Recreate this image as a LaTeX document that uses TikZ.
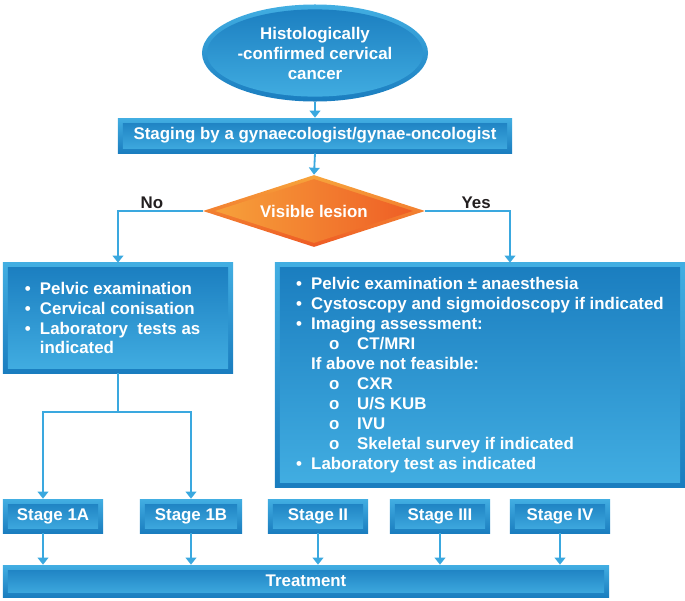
\documentclass[tikz,border=0pt]{standalone}
\usepackage{fontspec}
\setmainfont{Liberation Sans}
\usetikzlibrary{shapes.geometric,arrows.meta}

\definecolor{boxlight}{HTML}{42AEE2}
\definecolor{boxdark}{HTML}{1A7DBF}
\definecolor{arrowblue}{HTML}{3AA8DF}
\definecolor{orangelight}{HTML}{F7A53C}
\definecolor{orangedark}{HTML}{EE5A24}
\definecolor{labeltext}{HTML}{231F20}

\newcommand{\blt}{\makebox[0.375cm][l]{\textbullet}}
\newcommand{\subblt}{\hspace*{0.825cm}\makebox[0.7cm][l]{o}}
\newcommand{\hang}{\hspace*{0.375cm}}

\begin{document}
\begin{tikzpicture}[x=0.025cm,y=-0.025cm,
    font=\fontsize{12}{14.2}\selectfont\bfseries,
    bluebox/.style={rectangle, text=white, inner sep=0pt,
        top color=boxlight, bottom color=boxdark,
        path picture={\shade[top color=boxdark, bottom color=boxlight]
            ([shift={(0.125cm,-0.125cm)}]path picture bounding box.north west) rectangle
            ([shift={(-0.125cm,0.125cm)}]path picture bounding box.south east);}},
    startnode/.style={ellipse, text=white, align=center, inner sep=0pt,
        minimum width=5.65cm, minimum height=2.425cm,
        top color=boxlight, bottom color=boxdark,
        path picture={\shade[top color=boxdark, bottom color=boxlight]
            (path picture bounding box.center) ellipse [x radius=2.7cm, y radius=1.09cm];}},
    lesionnode/.style={diamond, aspect=3, text=white, inner sep=0pt,
        minimum width=5.55cm, minimum height=1.8cm,
        top color=orangelight, bottom color=orangedark,
        path picture={\shade[left color=orangelight, right color=orangedark]
            ([xshift=0.3cm]path picture bounding box.west) --
            ([yshift=-0.1cm]path picture bounding box.north) --
            ([xshift=-0.3cm]path picture bounding box.east) --
            ([yshift=0.1cm]path picture bounding box.south) -- cycle;}},
    stagebox/.style={bluebox, minimum width=2.5cm, minimum height=0.85cm},
    link/.style={draw=arrowblue, line width=1.3pt},
    conn/.style={link, -{Triangle[width=7.5pt,length=5pt]}},
    answer/.style={text=labeltext, inner sep=1pt}]

    \useasboundingbox (0,0) rectangle (685,600);

    % Start and staging
    \node[startnode] (start) at (315,53) {Histologically\\-confirmed cervical\\cancer};
    \node[bluebox, minimum width=9.85cm, minimum height=0.875cm] (staging) at (315,135.5)
        {Staging by a gynaecologist/gynae-oncologist};

    % Decision
    \node[lesionnode] (lesion) at (314,211) {Visible lesion};

    % Work-up boxes
    \node[bluebox, align=left, minimum width=5.75cm, minimum height=2.75cm] (noexam) at (118,318)
        {\blt Pelvic examination\\
         \blt Cervical conisation\\
         \blt Laboratory~ tests as\\
         \hang\makebox[4.275cm][l]{indicated}};
    \node[bluebox, align=left, minimum width=10.25cm, minimum height=5.6cm] (yesexam) at (480,375)
        {\blt Pelvic examination ± anaesthesia\\
         \blt Cystoscopy and sigmoidoscopy if indicated\\
         \blt Imaging assessment:\\
         \subblt CT/MRI\\
         \hang If above not feasible:\\
         \subblt CXR\\
         \subblt U/S KUB\\
         \subblt IVU\\
         \subblt Skeletal survey if indicated\\
         \blt Laboratory test as indicated};

    % Stages
    \node[stagebox] (s1a) at (53,516) {Stage 1A};
    \node[stagebox, minimum width=2.55cm] (s1b) at (191,516) {Stage 1B};
    \node[stagebox] (s2) at (318,516) {Stage II};
    \node[stagebox] (s3) at (440,516) {Stage III};
    \node[stagebox] (s4) at (560,516) {Stage IV};

    % Treatment
    \node[bluebox, minimum width=15.15cm, minimum height=0.8cm] (treat) at (306,581) {Treatment};

    % Connectors
    \draw[conn] (start.south) -- (staging.north);
    \draw[conn] (staging.south) -- (lesion.north);
    \draw[conn] (lesion.west) -| node[answer, pos=0.3, above] {No} (noexam.north);
    \draw[conn] (lesion.east) -| node[answer, pos=0.3, above] {Yes} ([xshift=0.75cm]yesexam.north);

    \path (noexam.south) ++(0,39) coordinate (split);
    \coordinate (s1ain) at ([xshift=-0.25cm]s1a.north);
    \coordinate (s1aout) at ([xshift=-0.25cm]s1a.south);
    \draw[link] (noexam.south) -- (split);
    \draw[conn] (split) -| (s1ain);
    \draw[conn] (split) -| (s1b.north);

    \draw[conn] (s1aout) -- (s1aout |- treat.north);
    \draw[conn] (s1b.south) -- (s1b.south |- treat.north);
    \draw[conn] (s2.south) -- (s2.south |- treat.north);
    \draw[conn] (s3.south) -- (s3.south |- treat.north);
    \draw[conn] (s4.south) -- (s4.south |- treat.north);
\end{tikzpicture}
\end{document}
